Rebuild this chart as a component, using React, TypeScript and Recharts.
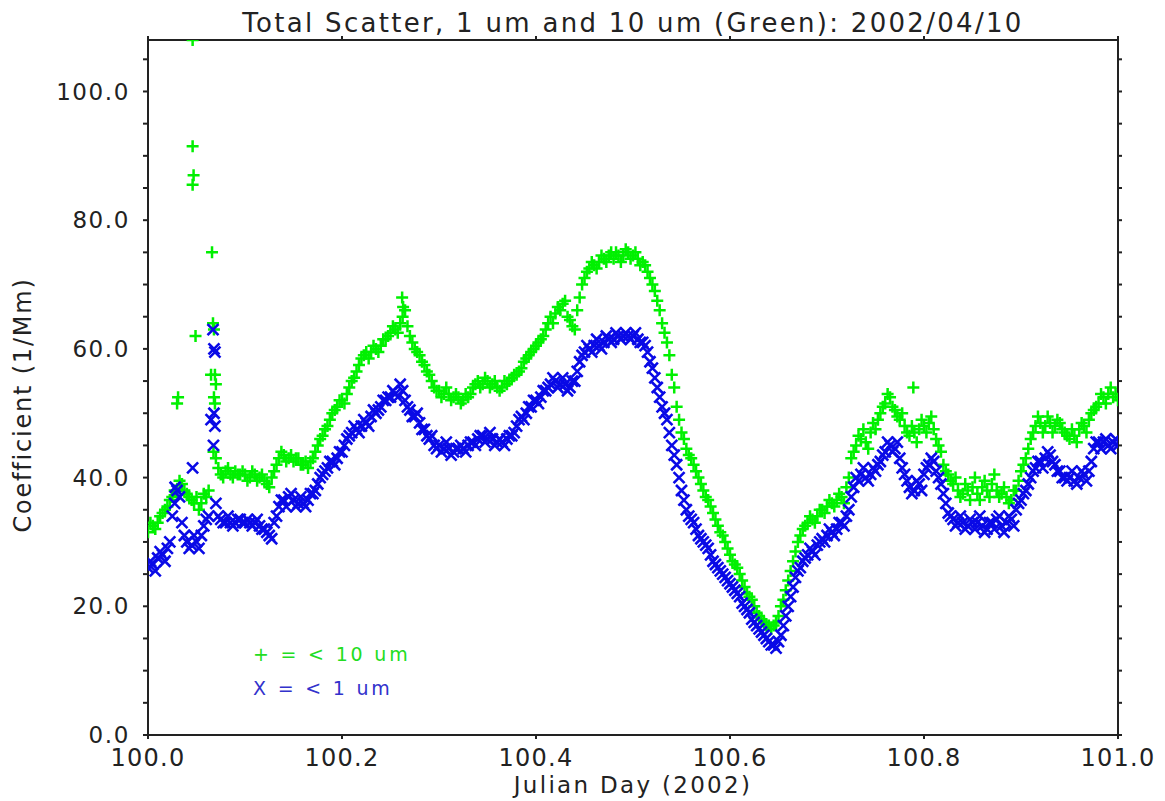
import React from 'react';
import { ScatterChart, Scatter, XAxis, YAxis } from 'recharts';

// ---- data ----
const startDay = 100.0;
const sampleStep = 0.005; // days between regular samples
const midOffset = 0.0025; // in-between samples sit half a step later

// total scatter coefficient, < 10 um (green "+"), at regular samples
const coarseValues = [
  31.5, 32.5, 33, 34.5, 35.5, 37, 38, 39, 37.5, 36.5,
  37, 36, 37, 56, 43, 40.5, 41, 40.5, 41, 40.5,
  40.5, 40, 40.5, 40, 39.5, 38.5, 41, 43, 43.5, 43,
  42.5, 43, 42, 41.5, 43, 45, 46.5, 48, 50, 51,
  52, 53, 55, 56.5, 58.5, 59.5, 59.5, 60, 60.5, 61.5,
  62.5, 63, 64, 66, 62, 60, 59, 57.5, 56, 54,
  53.5, 53, 53, 52.5, 52.5, 52, 52.5, 54, 55, 54.5,
  55, 54.5, 54, 54, 54.5, 55.5, 56, 57, 58.5, 59.5,
  60.5, 61.5, 63, 65, 65.5, 66, 67.5, 64.5, 63, 68,
  71, 72.5, 73, 73.5, 74, 74.5, 74, 74.5, 74.5, 75,
  74.5, 74, 73.5, 72, 70, 67.5, 64, 61, 56, 51,
  47, 44.5, 43, 41, 39, 37, 35.5, 33.5, 31.5, 30,
  28, 26.5, 25, 23, 21.5, 20, 18.5, 17.5, 17, 17,
  18.5, 21, 24, 27, 30, 32, 33, 33.5, 34, 35,
  35.5, 36, 36.5, 37, 38.5, 43, 45, 46, 45.5, 47,
  47.5, 50, 51.5, 52.5, 50.5, 49, 48, 46.5, 47, 47.5,
  48, 48.5, 47.5, 45, 42, 40.5, 39, 38, 37.5, 38,
  38.5, 37.5, 38.5, 38, 39, 38, 37.5, 37, 36.5, 38,
  41, 43, 46, 48, 48.5, 48, 48.5, 48, 48.5, 47,
  46, 46.5, 47.5, 48, 49, 50.5, 51.5, 52.5, 53, 52.5, 52,
];

// < 10 um, in-between samples
const coarseMidValues = [
  33, 32, 34, 35, 36.5, 38, 39.5, 38, 37, 36,
  35, 37.5, 38, 44, 41.5, 40, 41.5, 40, 40.5, 41,
  39.5, 41, 39.5, 40.5, 39, 40, 42, 44, 42.5, 43.5,
  43, 42, 42.5, 42.5, 44, 46, 47.5, 49, 50.5, 52,
  51.5, 54, 55.5, 57.5, 59, 58.5, 60.5, 59.5, 61.5, 62,
  63.5, 62.5, 65, 63.5, 61, 59.5, 58, 56.5, 55, 53.5,
  52.5, 54, 52, 53, 51.5, 53, 53, 54.5, 54, 55.5,
  54, 55, 53.5, 55, 55, 56, 56.5, 58, 59, 60,
  61, 62, 64, 64, 66.5, 67, 65, 63.5, 66, 70,
  72, 73.5, 72.5, 74.5, 73.5, 75, 75, 73.5, 75.5, 74,
  75, 73, 73, 71, 69, 66, 62.5, 59, 54, 49,
  46, 43.5, 42, 40, 38, 36.5, 34.5, 32.5, 31, 29,
  27, 26, 24, 22, 21, 19, 18, 17, 16.5, 17.5,
  20, 22.5, 25.5, 28.5, 31, 32.5, 34, 33, 35, 34.5,
  36.5, 35.5, 37.5, 36, 40, 44, 46.5, 47.5, 44.5, 48.5,
  49, 51, 53, 51, 49.5, 50, 47, 48, 45.5, 49,
  47, 49.5, 46, 44, 41, 39.5, 40, 37, 39, 36.5,
  40, 36.5, 39.5, 37, 40.5, 37, 38.5, 36, 38, 39.5,
  42, 44.5, 47, 49.5, 47, 49.5, 47, 49, 47.5, 46.5,
  47.5, 45.5, 48.5, 47, 50, 51, 53, 51.5, 54, 53,
];

// total scatter coefficient, < 1 um (blue "X"), at regular samples
const fineValues = [
  26, 26.5, 27.5, 28, 29, 34, 38, 33, 30, 29.5,
  30, 31, 33.5, 49, 36, 33.5, 33, 33, 33, 33.5,
  33, 33, 33, 32.5, 32, 31, 33, 35.5, 36.5, 37,
  36.5, 36, 36, 36.5, 37.5, 39, 40.5, 41.5, 42.5, 43,
  44, 46, 47, 47.5, 48, 48.5, 49.5, 50, 51, 52,
  52.5, 53, 54.5, 52, 50.5, 49.5, 48.5, 47.5, 46, 45,
  45, 44.5, 44.5, 44, 44.5, 44.5, 45, 45.5, 46, 46.5,
  46, 46, 45.5, 45.5, 46, 46.5, 48, 49.5, 50, 51,
  52, 52.5, 53.5, 54.5, 55, 54.5, 54.5, 54, 55, 58,
  59.5, 60, 60.5, 60.5, 61, 61.5, 61.5, 62, 62, 62,
  62, 61.5, 61, 59.5, 57, 54, 51, 49, 45, 42,
  38, 35, 33.5, 32, 30.5, 29.5, 28, 26.5, 25.5, 24.5,
  23.5, 22.5, 21.5, 20, 19, 17.5, 16.5, 15.5, 14.5, 14,
  14.5, 17, 20, 23, 25.5, 27, 28, 28.5, 29.5, 30.5,
  31, 31.5, 32, 33, 34, 37, 40, 40.5, 40, 40.5,
  41, 42.5, 44, 45, 44.5, 43, 40.5, 38.5, 38, 39,
  40.5, 42, 42.5, 40, 37.5, 34.5, 33.5, 33, 33, 32.5,
  33, 33, 32.5, 32, 33, 33.5, 32.5, 33, 33.5, 35,
  36.5, 38, 40, 41.5, 42.5, 43, 43.5, 42, 41, 40,
  40, 39.5, 40, 40.5, 41, 44.5, 45.5, 45.5, 45, 45.5, 45,
];

// < 1 um, in-between samples
const fineMidValues = [
  27, 25.5, 28.5, 27, 30, 36, 37, 31, 29, 31,
  29, 32.5, 34, 45, 34, 33, 34, 32.5, 33.5, 33,
  33.5, 32.5, 33.5, 32, 31.5, 30.5, 34, 36.5, 35.5, 37.5,
  35.5, 37, 35.5, 37.5, 38, 40, 41, 42.5, 42, 44,
  45, 46.5, 48, 47, 49, 48, 50.5, 50.5, 52, 52.5,
  53.5, 52.5, 53.5, 51, 49.5, 50, 47.5, 46.5, 46.5, 44.5,
  44, 45.5, 43.5, 44.5, 45, 44, 45.5, 45, 46.5, 45.5,
  47, 45, 46, 45, 46.5, 47, 49, 49, 51, 52,
  51.5, 53.5, 54, 55.5, 54, 55.5, 53.5, 55, 56.5, 59,
  60.5, 59.5, 61.5, 60, 62, 61, 62.5, 61.5, 62.5, 61.5,
  62.5, 61, 60.5, 58, 55.5, 52.5, 50, 47, 43.5, 40,
  36.5, 34, 33, 31, 30, 29, 27, 26, 25, 24,
  23, 22, 20.5, 19.5, 18, 17, 16, 15, 14, 13.5,
  15.5, 18.5, 21.5, 24.5, 26, 27.5, 29, 28, 30, 30,
  32, 31, 33, 32.5, 35, 38.5, 39.5, 41.5, 39.5, 41.5,
  42, 43.5, 45.5, 44, 45.5, 41.5, 39.5, 37.5, 39.5, 38,
  41.5, 43, 41, 39, 36, 34, 32.5, 34, 32, 33.5,
  32, 34, 31.5, 33, 32, 34, 31.5, 34, 32.5, 36,
  37.5, 39, 41, 42.5, 41.5, 44, 42.5, 41, 40, 39.5,
  41, 39, 41, 39.5, 42.5, 45.5, 44.5, 46, 44.5, 46,
];

// isolated spikes (day, value)
const coarseSpikeDays = [100.030, 100.031, 100.046, 100.046, 100.047, 100.046, 100.049, 100.066, 100.067, 100.068, 100.069, 100.070, 100.068, 100.069, 100.262, 100.263, 100.789];
const coarseSpikeValues = [51.5, 52.5, 108, 91.5, 87, 85.5, 62, 75, 64, 63, 56, 54.5, 52.5, 51.5, 68, 66.5, 54];
const fineSpikeDays = [100.028, 100.046, 100.067, 100.068, 100.069, 100.068, 100.069];
const fineSpikeValues = [38.5, 41.5, 63, 60, 59.5, 50, 48];

const xTicks = [100.0, 100.2, 100.4, 100.6, 100.8, 101.0];
const yTicks = [0, 5, 10, 15, 20, 25, 30, 35, 40, 45, 50, 55, 60, 65, 70, 75, 80, 85, 90, 95, 100, 105];
const yLabelStep = 20;

const titleText = 'Total Scatter, 1 um and 10 um (Green): 2002/04/10';
const xLabelText = 'Julian Day (2002)';
const yLabelText = 'Coefficient (1/Mm)';
const legendCoarse = '+ = < 10 um';
const legendFine = 'X = < 1 um';

// ---- build point tables ----
const coarseData = [
  ...coarseValues.map((v, i) => ({ day: startDay + i * sampleStep, value: v })),
  ...coarseMidValues.map((v, i) => ({ day: startDay + i * sampleStep + midOffset, value: v })),
  ...coarseSpikeDays.map((d, i) => ({ day: d, value: coarseSpikeValues[i] })),
];
const fineData = [
  ...fineValues.map((v, i) => ({ day: startDay + i * sampleStep, value: v })),
  ...fineMidValues.map((v, i) => ({ day: startDay + i * sampleStep + midOffset, value: v })),
  ...fineSpikeDays.map((d, i) => ({ day: d, value: fineSpikeValues[i] })),
];

const GREEN = '#00f000';
const BLUE = '#0a0ae6';
const INK = '#222222';
const FONT = '"DejaVu Sans", sans-serif';

const PlusMark = (props: any) => {
  const { cx, cy } = props;
  if (cx == null || cy == null) return null;
  const r = 6;
  return (
    <path
      d={`M${cx - r},${cy}H${cx + r}M${cx},${cy - r}V${cy + r}`}
      stroke={GREEN}
      strokeWidth={2.5}
      fill="none"
    />
  );
};

const CrossMark = (props: any) => {
  const { cx, cy } = props;
  if (cx == null || cy == null) return null;
  const r = 5.5;
  return (
    <path
      d={`M${cx - r},${cy - r}L${cx + r},${cy + r}M${cx - r},${cy + r}L${cx + r},${cy - r}`}
      stroke={BLUE}
      strokeWidth={2.6}
      fill="none"
    />
  );
};

const xTickStyle = { fontFamily: FONT, fontSize: 24, fill: INK, letterSpacing: 1.3 };
const yTickStyle = { fontFamily: FONT, fontSize: 23, fill: INK, letterSpacing: 1.6 };

export default function App() {
  return (
    <div style={{ position: 'absolute', left: 0, top: 0, width: 1165, height: 801, background: '#fff' }}>
      <ScatterChart
        width={1165}
        height={801}
        margin={{ top: 39, right: 46, bottom: 0, left: 0 }}
      >
        <XAxis
          xAxisId="bottom"
          dataKey="day"
          type="number"
          domain={[100, 101]}
          ticks={xTicks}
          allowDataOverflow
          tickFormatter={(v: number) => v.toFixed(1)}
          height={66}
          tickSize={4}
          tickMargin={10}
          stroke={INK}
          strokeWidth={2}
          tick={xTickStyle}
        />
        <XAxis
          xAxisId="top"
          orientation="top"
          dataKey="day"
          type="number"
          domain={[100, 101]}
          ticks={xTicks}
          allowDataOverflow
          tickFormatter={() => ''}
          height={1}
          tickSize={4}
          stroke={INK}
          strokeWidth={2}
        />
        <YAxis
          yAxisId="left"
          dataKey="value"
          type="number"
          domain={[0, 108]}
          ticks={yTicks}
          allowDataOverflow
          tickFormatter={(v: number) => (v % yLabelStep === 0 ? v.toFixed(1) : '')}
          width={148}
          tickSize={5}
          tickMargin={13}
          stroke={INK}
          strokeWidth={2}
          tick={yTickStyle}
        />
        <YAxis
          yAxisId="right"
          orientation="right"
          dataKey="value"
          type="number"
          domain={[0, 108]}
          ticks={yTicks}
          allowDataOverflow
          tickFormatter={() => ''}
          width={1}
          tickSize={4}
          stroke={INK}
          strokeWidth={2}
        />
        <Scatter
          name="frame"
          data={[]}
          xAxisId="top"
          yAxisId="right"
          isAnimationActive={false}
        />
        <Scatter
          name="< 10 um"
          data={coarseData}
          xAxisId="bottom"
          yAxisId="left"
          shape={PlusMark}
          isAnimationActive={false}
        />
        <Scatter
          name="< 1 um"
          data={fineData}
          xAxisId="bottom"
          yAxisId="left"
          shape={CrossMark}
          isAnimationActive={false}
        />
      </ScatterChart>
      <svg
        width={1165}
        height={801}
        style={{ position: 'absolute', left: 0, top: 0, pointerEvents: 'none' }}
      >
        <text x={633} y={32} textAnchor="middle" fontFamily={FONT} fontSize={26} letterSpacing={2.3} fill={INK}>
          {titleText}
        </text>
        <text x={633} y={793} textAnchor="middle" fontFamily={FONT} fontSize={23} letterSpacing={2.3} fill={INK}>
          {xLabelText}
        </text>
        <text
          x={0}
          y={0}
          transform="translate(31,405) rotate(-90)"
          textAnchor="middle"
          fontFamily={FONT}
          fontSize={24}
          letterSpacing={1.8}
          fill={INK}
        >
          {yLabelText}
        </text>
        <text x={253} y={661} fontFamily={FONT} fontSize={19} letterSpacing={2.8} fill="#22dd22">
          {legendCoarse}
        </text>
        <text x={253} y={695} fontFamily={FONT} fontSize={19} letterSpacing={2.8} fill="#3232cc">
          {legendFine}
        </text>
      </svg>
    </div>
  );
}
